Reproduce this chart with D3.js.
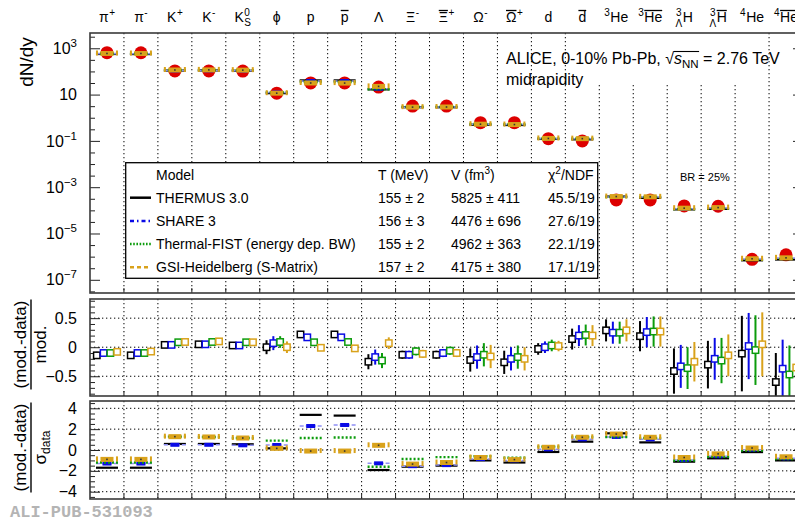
<!DOCTYPE html>
<html>
<head>
<meta charset="utf-8">
<title>Hadron yields vs statistical hadronisation models</title>
<style>
  body { margin: 0; background: #fff; }
  text { font-family: "Liberation Sans", Arial, Helvetica, sans-serif; fill: #000; }
</style>
</head>
<body>
<svg id="chart" width="795" height="523"></svg>
<script src="https://d3js.org/d3.v7.min.js"></script>
<script>
// ---- data ----
const particles = ["pi+", "pi-", "K+", "K-", "K0S", "phi", "p", "pbar", "Lambda", "Xi-", "Xibar+",
  "Omega-", "Omegabar+", "d", "dbar", "3He", "3Hebar", "3LH", "3LHbar", "4He", "4Hebar"];

// particle labels on top: base glyph, superscript, subscript, left super/sub, overline
const particleLabels = [
  { b: "π", sup: "+" }, { b: "π", sup: "-" }, { b: "K", sup: "+" }, { b: "K", sup: "-" },
  { b: "K", sup: "0", sub: "S" }, { b: "ϕ" }, { b: "p" }, { b: "p", bar: true }, { b: "Λ" },
  { b: "Ξ", sup: "-" }, { b: "Ξ", sup: "+", bar: true }, { b: "Ω", sup: "-" }, { b: "Ω", sup: "+", bar: true },
  { b: "d" }, { b: "d", bar: true }, { pre: "3", b: "He" }, { pre: "3", b: "He", bar: true },
  { pre: "3", preSub: "Λ", b: "H" }, { pre: "3", preSub: "Λ", b: "H", bar: true },
  { pre: "4", b: "He" }, { pre: "4", b: "He", bar: true }
];

// measured dN/dy
const dataYield = [645, 640, 105, 105, 104, 11.5, 32, 32, 21, 3.2, 3.2, 0.61, 0.61, 0.125, 0.1,
  2.8e-4, 2.8e-4, 1.55e-4, 1.5e-4, 7.7e-7, 1.2e-6];

const models = ["THERMUS 3.0", "SHARE 3", "Thermal-FIST (energy dep. BW)", "GSI-Heidelberg (S-Matrix)"];
const modelT = ["155 ± 2", "156 ± 3", "155 ± 2", "157 ± 2"];
const modelV = ["5825 ± 411", "4476 ± 696", "4962 ± 363", "4175 ± 380"];
const modelChi2 = ["45.5/19", "27.6/19", "22.1/19", "17.1/19"];

// (mod.-data)/mod.
const ratioThermus = [-0.14, -0.14, 0.04, 0.05, 0.03, 0.0, 0.22, 0.22, -0.25, -0.13, -0.13, -0.22, -0.26, -0.03, 0.14, 0.29, 0.19, -0.41, -0.30, -0.11, -0.60];
const ratioShare = [-0.10, -0.10, 0.04, 0.05, 0.03, 0.07, 0.17, 0.17, -0.17, -0.13, -0.10, -0.17, -0.20, 0.0, 0.20, 0.25, 0.26, -0.33, -0.20, 0.02, -0.37];
const ratioFist = [-0.10, -0.10, 0.085, 0.09, 0.085, 0.09, 0.085, 0.09, -0.23, -0.07, -0.06, -0.13, -0.17, 0.03, 0.21, 0.25, 0.27, -0.36, -0.23, -0.05, -0.47];
const ratioGsi = [-0.08, -0.075, 0.09, 0.10, 0.085, 0.0, -0.01, -0.02, 0.07, -0.115, -0.10, -0.16, -0.20, 0.02, 0.20, 0.29, 0.27, -0.25, -0.14, 0.05, -0.35];

const ratioErrThermus = [0.06, 0.06, 0.05, 0.05, 0.05, 0.12, 0.04, 0.04, 0.13, 0.07, 0.07, 0.2, 0.2, 0.1, 0.18, 0.19, 0.26, 0.39, 0.41, 0.65, 0.5];
const ratioErrShare = [0.05, 0.05, 0.05, 0.05, 0.05, 0.12, 0.04, 0.04, 0.13, 0.07, 0.07, 0.2, 0.2, 0.1, 0.18, 0.19, 0.26, 0.37, 0.36, 0.57, 0.5];
const ratioErrFist = [0.05, 0.05, 0.05, 0.05, 0.05, 0.1, 0.04, 0.04, 0.13, 0.07, 0.07, 0.2, 0.2, 0.1, 0.18, 0.19, 0.26, 0.36, 0.39, 0.6, 0.5];
const ratioErrGsi = [0.05, 0.05, 0.05, 0.05, 0.05, 0.1, 0.04, 0.04, 0.1, 0.07, 0.07, 0.2, 0.2, 0.09, 0.18, 0.19, 0.26, 0.34, 0.36, 0.55, 0.5];

// (mod.-data)/sigma_data
const devThermus = [-1.7, -1.7, 0.58, 0.58, 0.55, 0.16, 3.37, 3.3, -1.92, -1.6, -1.5, -1.0, -1.2, -0.19, 0.8, 1.6, 0.73, -1.12, -0.8, -0.2, -1.0];
const devShare = [-1.3, -1.3, 0.5, 0.5, 0.45, 0.48, 2.3, 2.4, -1.28, -1.55, -1.45, -0.87, -1.0, 0.06, 1.02, 1.25, 1.02, -0.96, -0.6, 0.03, -0.8];
const devFist = [-1.2, -1.2, 1.28, 1.25, 1.15, 0.9, 1.15, 1.2, -1.6, -0.87, -0.68, -0.6, -0.75, 0.32, 1.25, 1.25, 1.15, -1.0, -0.65, -0.06, -0.87];
const devGsi = [-0.9, -0.9, 1.28, 1.25, 1.15, 0.16, -0.1, -0.1, 0.45, -1.35, -1.2, -0.72, -0.92, 0.26, 1.22, 1.53, 1.22, -0.72, -0.37, 0.19, -0.65];

const ratios = [ratioThermus, ratioShare, ratioFist, ratioGsi];
const ratioErrs = [ratioErrThermus, ratioErrShare, ratioErrFist, ratioErrGsi];
const devs = [devThermus, devShare, devFist, devGsi];

const colors = ["#000000", "#0a0ae6", "#0c9c0c", "#d9a21b"];
const offsets = [-10.2, -3.4, 3.4, 10.2];

// ---- layout ----
const svg = d3.select("#chart");
const X0 = 90, X1 = 803;
const topP = { y0: 33, y1: 293, id: "clipTop" }, midP = { y0: 299, y1: 396, id: "clipMid" }, botP = { y0: 401, y1: 499, id: "clipBot" };

const x = d3.scaleBand().domain(d3.range(particles.length)).range([X0, X1]);
const cx = i => x(i) + x.bandwidth() / 2;
const yTop = d3.scaleLog().domain([Math.pow(10, -7.57), Math.pow(10, 3.66)]).range([topP.y1, topP.y0]);
const yMid = d3.scaleLinear().domain([-0.84, 0.83]).range([midP.y1, midP.y0]);
const yBot = d3.scaleLinear().domain([-4.7, 4.7]).range([botP.y1, botP.y0]);

const defs = svg.append("defs");
[topP, midP, botP].forEach(p => {
  defs.append("clipPath").attr("id", p.id)
    .append("rect").attr("x", X0).attr("y", p.y0).attr("width", X1 - X0).attr("height", p.y1 - p.y0);
});

const dots = "1.3,2.7";

// vertical dotted grid at category boundaries
const bounds = d3.range(1, particles.length);
svg.append("g").selectAll("line").data(bounds).enter().append("line")
  .attr("x1", k => x(k)).attr("x2", k => x(k))
  .attr("y1", k => (k >= 15 && k <= 19) ? 85 : topP.y0).attr("y2", topP.y1)
  .attr("stroke", "#000").attr("stroke-dasharray", dots);
[midP, botP].forEach(p => {
  svg.append("g").selectAll("line").data(bounds).enter().append("line")
    .attr("x1", k => x(k)).attr("x2", k => x(k))
    .attr("y1", p.y0).attr("y2", p.y1)
    .attr("stroke", "#000").attr("stroke-dasharray", dots);
});

// horizontal dotted grid in ratio panels
svg.append("g").selectAll("line").data([0.5, 0, -0.5]).enter().append("line")
  .attr("x1", X0).attr("x2", X1).attr("y1", d => yMid(d)).attr("y2", d => yMid(d))
  .attr("stroke", "#000").attr("stroke-dasharray", dots);
svg.append("g").selectAll("line").data([4, 2, 0, -2, -4]).enter().append("line")
  .attr("x1", X0).attr("x2", X1).attr("y1", d => yBot(d)).attr("y2", d => yBot(d))
  .attr("stroke", "#000").attr("stroke-dasharray", dots);

// ---- axes ----
function fmtMinus(v) { return (v < 0 ? "−" : "") + Math.abs(v); }

function yAxes(scale, major, minor, fmt, p) {
  svg.append("g").attr("transform", `translate(${X0},0)`)
    .call(d3.axisLeft(scale).tickValues(minor).tickSize(-5).tickFormat(""))
    .call(g => g.select(".domain").remove());
  const gl = svg.append("g").attr("transform", `translate(${X0},0)`)
    .call(d3.axisLeft(scale).tickValues(major).tickSize(-10).tickPadding(13).tickFormat(fmt))
    .call(g => g.select(".domain").remove());
  gl.selectAll(".tick text").attr("font-size", 16).attr("font-family", "Liberation Sans, Arial, sans-serif").attr("fill", "#000");
  svg.append("g").attr("transform", `translate(${X1},0)`)
    .call(d3.axisRight(scale).tickValues(major).tickSize(-10).tickFormat(""))
    .call(g => g.select(".domain").remove());
  svg.append("g").attr("transform", `translate(${X1},0)`)
    .call(d3.axisRight(scale).tickValues(minor).tickSize(-5).tickFormat(""))
    .call(g => g.select(".domain").remove());
  svg.selectAll(".tick line").attr("stroke", "#222");
  // x ticks at category boundaries
  svg.append("g").attr("transform", `translate(0,${p.y1})`)
    .selectAll("line").data(bounds).enter().append("line")
    .attr("x1", k => x(k)).attr("x2", k => x(k)).attr("y1", 0).attr("y2", -5).attr("stroke", "#222");
  return gl;
}

// top (log) axis
const logMajor = [3, 1, -1, -3, -5, -7].map(e => Math.pow(10, e));
const logMinor = d3.range(-7.5, 3.6, 0.5).map(e => Math.pow(10, e)).filter(v => !logMajor.some(m => Math.abs(Math.log10(m) - Math.log10(v)) < 1e-6));
const gTop = yAxes(yTop, logMajor, logMinor, () => "", topP);
gTop.selectAll(".tick text").each(function (d) {
  const e = Math.round(Math.log10(d));
  const t = d3.select(this).attr("font-size", 16);
  t.append("tspan").text("10");
  if (e !== 1) t.append("tspan").attr("dy", -7).attr("font-size", 11.5).text(e < 0 ? "−" + (-e) : e);
});

yAxes(yMid, [0.5, 0, -0.5], d3.range(-0.8, 0.81, 0.1).map(v => Math.round(v * 10) / 10).filter(v => Math.abs(v % 0.5) > 1e-6), fmtMinus, midP);
yAxes(yBot, [4, 2, 0, -2, -4], d3.range(-4.5, 4.51, 0.5).filter(v => v % 2 !== 0), fmtMinus, botP);

// ---- legend box ----
const leg = svg.append("g");
leg.append("rect").attr("x", 125.7).attr("y", 162.7).attr("width", 472).attr("height", 115.6)
  .attr("fill", "#fff").attr("stroke", "#000").attr("stroke-width", 1.3);
const legCols = [156, 378, 451, 548];
const legY0 = 179.5, legDy = 23.2;
leg.append("text").attr("x", legCols[0]).attr("y", legY0).attr("font-size", 14).text("Model");
leg.append("text").attr("x", legCols[1]).attr("y", legY0).attr("font-size", 14).text("T (MeV)");
const vt = leg.append("text").attr("x", legCols[2]).attr("y", legY0).attr("font-size", 14);
vt.append("tspan").text("V (fm");
vt.append("tspan").attr("dy", -6).attr("font-size", 10).text("3");
vt.append("tspan").attr("dy", 6).text(")");
const ct = leg.append("text").attr("x", legCols[3]).attr("y", legY0).attr("font-size", 14);
ct.append("tspan").text("χ");
ct.append("tspan").attr("dy", -6).attr("font-size", 10).text("2");
ct.append("tspan").attr("dy", 6).text("/NDF");
const lineDash = [null, "4,3,1.5,3", "1.6,1.6", "4,3"];
models.forEach((m, i) => {
  const yy = legY0 + legDy * (i + 1);
  leg.append("line").attr("x1", 130).attr("x2", 151).attr("y1", yy - 5).attr("y2", yy - 5)
    .attr("stroke", colors[i]).attr("stroke-width", 2.5).attr("stroke-dasharray", lineDash[i]);
  leg.append("text").attr("x", legCols[0]).attr("y", yy).attr("font-size", 14).text(m);
  leg.append("text").attr("x", legCols[1]).attr("y", yy).attr("font-size", 14).text(modelT[i]);
  leg.append("text").attr("x", legCols[2]).attr("y", yy).attr("font-size", 14).text(modelV[i]);
  leg.append("text").attr("x", legCols[3]).attr("y", yy).attr("font-size", 14).text(modelChi2[i]);
});

// ---- model marks ----
function modelMark(g, px, py, m) {
  const c = colors[m];
  if (m === 0) {
    g.append("line").attr("x1", px - 11).attr("x2", px + 11).attr("y1", py).attr("y2", py)
      .attr("stroke", c).attr("stroke-width", 2.2);
  } else if (m === 1) {
    g.append("line").attr("x1", px - 11).attr("x2", px + 11).attr("y1", py).attr("y2", py)
      .attr("stroke", "#8f8ff5").attr("stroke-width", 1.5).attr("stroke-dasharray", "4,2,1,2");
    g.append("rect").attr("x", px - 4.5).attr("y", py - 2).attr("width", 9).attr("height", 4).attr("fill", c);
  } else if (m === 2) {
    g.append("line").attr("x1", px - 11).attr("x2", px + 11).attr("y1", py).attr("y2", py)
      .attr("stroke", c).attr("stroke-width", 2.4).attr("stroke-dasharray", "2,2");
  } else {
    g.append("rect").attr("x", px - 6.5).attr("y", py - 2.5).attr("width", 13).attr("height", 5).attr("fill", c);
    [-10, 10].forEach(dx => g.append("rect").attr("x", px + dx - 1).attr("y", py - 3).attr("width", 2).attr("height", 5).attr("fill", c));
    g.append("rect").attr("x", px - 0.8).attr("y", py - 0.8).attr("width", 1.6).attr("height", 1.6).attr("fill", "#333");
  }
}

// ---- top panel: data and models ----
const gTopMarks = svg.append("g").attr("clip-path", "url(#clipTop)");
gTopMarks.selectAll("circle").data(dataYield).enter().append("circle")
  .attr("cx", (d, i) => cx(i)).attr("cy", d => yTop(d)).attr("r", 6.5).attr("fill", "#dd0000");
[0, 1, 2, 3].forEach(m => {
  particles.forEach((p, i) => {
    const modelYield = dataYield[i] / (1 - ratios[m][i]);
    modelMark(gTopMarks, cx(i), yTop(modelYield), m);
  });
});

// ---- middle panel ----
const gMid = svg.append("g").attr("clip-path", "url(#clipMid)");
[0, 1, 2, 3].forEach(m => {
  const g = gMid.append("g");
  g.selectAll("line").data(ratios[m]).enter().append("line")
    .attr("x1", (d, i) => cx(i) + offsets[m]).attr("x2", (d, i) => cx(i) + offsets[m])
    .attr("y1", (d, i) => yMid(d + ratioErrs[m][i])).attr("y2", (d, i) => yMid(d - ratioErrs[m][i]))
    .attr("stroke", colors[m]).attr("stroke-width", 2);
  g.selectAll("rect").data(ratios[m]).enter().append("rect")
    .attr("x", (d, i) => cx(i) + offsets[m] - 3.2).attr("y", d => yMid(d) - 3.2)
    .attr("width", 6.4).attr("height", 6.4)
    .attr("fill", "#fff").attr("stroke", colors[m]).attr("stroke-width", 1.5);
});

// ---- bottom panel ----
const gBot = svg.append("g").attr("clip-path", "url(#clipBot)");
[0, 1, 2, 3].forEach(m => {
  devs[m].forEach((d, i) => modelMark(gBot, cx(i), yBot(d), m));
});

// ---- frames ----
[topP, midP, botP].forEach(p => {
  svg.append("rect").attr("x", X0).attr("y", p.y0).attr("width", X1 - X0).attr("height", p.y1 - p.y0)
    .attr("fill", "none").attr("stroke", "#3a3a3a").attr("stroke-width", 1.6);
});

// ---- particle labels on top ----
function drawLabel(i, s) {
  const g = svg.append("g");
  const base = 22, fs = 14, sfs = 10;
  let xx = 0;
  const add = (txt, xpos, y, size) => g.append("text").attr("x", xpos).attr("y", y).attr("font-size", size).text(txt);
  if (s.pre) {
    const a = add(s.pre, xx, base - 6, sfs);
    let w = a.node().getComputedTextLength();
    if (s.preSub) {
      const b = add(s.preSub, xx, base + 5, sfs);
      const wb = b.node().getComputedTextLength();
      a.attr("x", xx + (wb - w) / 2);
      w = Math.max(w, wb);
    }
    xx += w + 0.5;
  }
  const bt = add(s.b, xx, base, fs);
  const bw = bt.node().getComputedTextLength();
  if (s.bar) {
    g.append("line").attr("x1", xx).attr("x2", xx + bw).attr("y1", 10.5).attr("y2", 10.5)
      .attr("stroke", "#000").attr("stroke-width", 1.3);
  }
  xx += bw;
  let w2 = 0;
  if (s.sup) {
    const a = add(s.sup, xx + 0.5, base - 6, sfs);
    w2 = a.node().getComputedTextLength() + 0.5;
  }
  if (s.sub) {
    const b = add(s.sub, xx + 0.5, base + 4, sfs);
    w2 = Math.max(w2, b.node().getComputedTextLength() + 0.5);
  }
  xx += w2;
  g.attr("transform", `translate(${cx(i) - xx / 2},0)`);
}
particleLabels.forEach((s, i) => drawLabel(i, s));

// ---- annotations ----
const al = svg.append("text").attr("x", 506).attr("y", 64).attr("font-size", 16);
al.append("tspan").text("ALICE, 0-10% Pb-Pb, ");
al.append("tspan").text("√");
const sT = al.append("tspan").attr("font-style", "italic").text("s");
al.append("tspan").attr("dy", 4).attr("font-size", 11.5).text("NN");
al.append("tspan").attr("dy", -4).text(" = 2.76 TeV");
const nnBox = al.selectAll("tspan").nodes()[3].getBBox();
const sBox = sT.node().getBBox();
svg.append("line").attr("x1", sBox.x - 0.5).attr("x2", nnBox.x + nnBox.width + 0.5)
  .attr("y1", sBox.y + 1.5).attr("y2", sBox.y + 1.5).attr("stroke", "#000").attr("stroke-width", 1.1);
svg.append("text").attr("x", 506).attr("y", 85).attr("font-size", 16).text("midrapidity");
svg.append("text").attr("x", 680).attr("y", 181).attr("font-size", 11).attr("fill", "#333").text("BR = 25%");

// ---- y-axis titles ----
svg.append("text").attr("transform", "translate(33,62) rotate(-90)").attr("text-anchor", "middle")
  .attr("font-size", 19).text("dN/dy");

function fracTitle(cy, denom) {
  const g = svg.append("g").attr("transform", `translate(31,${cy}) rotate(-90)`);
  const num = g.append("text").attr("y", -5).attr("text-anchor", "middle").attr("font-size", 17).text("(mod.-data)");
  const w = num.node().getComputedTextLength();
  g.append("line").attr("x1", -w / 2 - 1).attr("x2", w / 2 + 1).attr("y1", 0).attr("y2", 0)
    .attr("stroke", "#000").attr("stroke-width", 1.4);
  denom(g);
}
fracTitle(344.5, g => g.append("text").attr("y", 15).attr("text-anchor", "middle").attr("font-size", 17).text("mod."));
fracTitle(447.5, g => {
  const t = g.append("text").attr("y", 15).attr("text-anchor", "middle").attr("font-size", 17);
  t.append("tspan").text("σ");
  t.append("tspan").attr("dy", 4).attr("font-size", 12).text("data");
});

// ---- watermark ----
svg.append("text").attr("x", 10).attr("y", 517).attr("font-size", 17).attr("font-weight", "bold")
  .style("font-family", "'Liberation Mono', 'DejaVu Sans Mono', monospace").style("fill", "#b4b4b4")
  .text("ALI-PUB-531093");
</script>
</body>
</html>
